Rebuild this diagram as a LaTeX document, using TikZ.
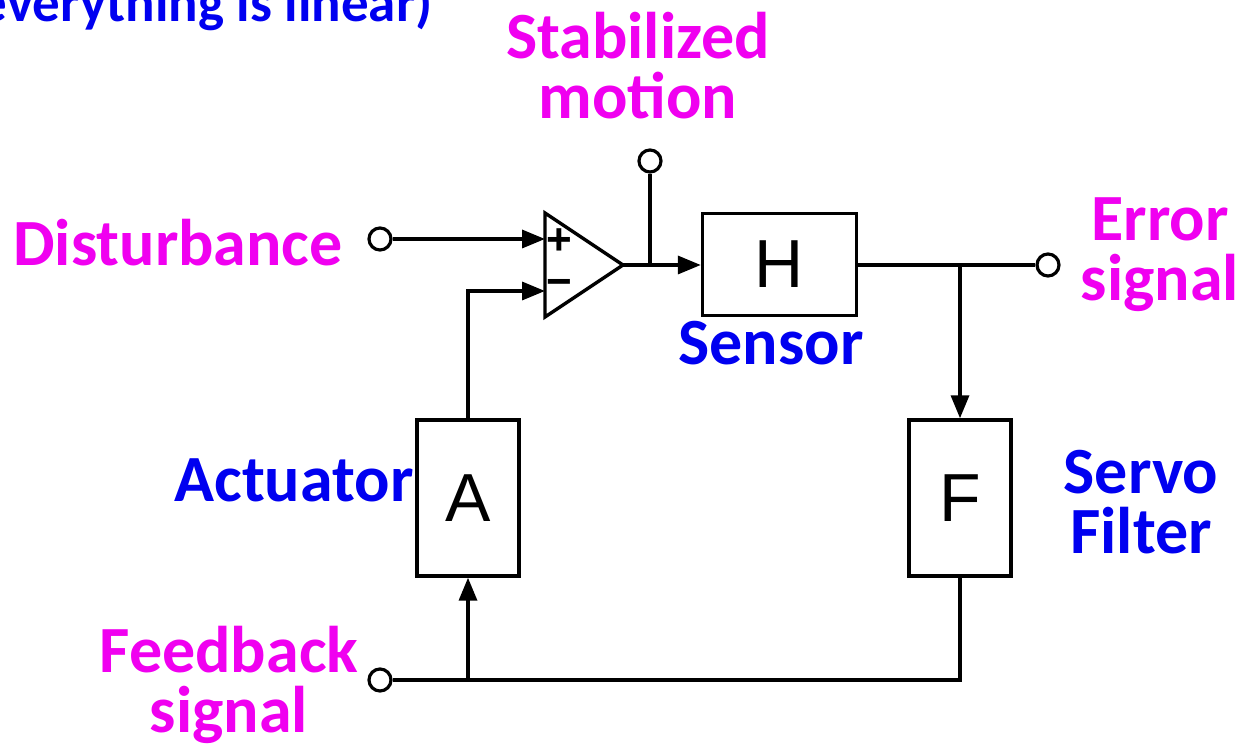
\documentclass[tikz,border=0pt]{standalone}
\usepackage{fontspec}
\setmainfont{Carlito}
\newfontfamily\boxfont{Liberation Sans}
\usetikzlibrary{arrows.meta}
\definecolor{lblmag}{RGB}{240,0,240}
\definecolor{lblblue}{RGB}{0,0,240}
\tikzset{
  wire/.style={line width=1.7pt, line join=miter},
  arr/.style={wire, -{Triangle[length=11.5pt,width=9pt]}},
  term/.style={circle, draw, line width=1.6pt, fill=white, minimum size=11pt, inner sep=0pt},
  blk/.style={draw, line width=1.7pt, inner sep=0pt, font=\boxfont\fontsize{34}{34}\selectfont},
  maglbl/.style={text=lblmag, font=\bfseries\fontsize{33}{30}\selectfont, align=center, inner sep=0pt},
  bluelbl/.style={text=lblblue, font=\bfseries\fontsize{33}{30}\selectfont, align=center, inner sep=0pt},
  sign/.style={font=\boxfont\bfseries\fontsize{22}{22}\selectfont, inner sep=0pt},
}
\begin{document}
\begin{tikzpicture}[x=0.5pt,y=-0.5pt]
\useasboundingbox (0,0) rectangle (1241,747);
% top text (cut off at the page edge, as in the reference)
\node[bluelbl, font=\bfseries\fontsize{27.5}{30}\selectfont, anchor=base east] (topnote) at (433,22) {everything is linear)};
% blocks
\node[blk, minimum width=77pt, minimum height=51pt] (H) at (779.5,264.5) {H};
\node[blk, minimum width=51pt, minimum height=78pt] (A) at (468,498) {A};
\node[blk, minimum width=51pt, minimum height=78pt] (F) at (960,498) {F};
% op-amp
\coordinate (tl) at (545,213);
\coordinate (bl) at (545,317);
\coordinate (out) at (623,265);
\draw[wire] (tl) -- (out) -- (bl) -- cycle;
\coordinate (inp) at (545,239);
\coordinate (inm) at (545,291);
\node[sign] (plus) at (559,242) {+};
\node[sign] (minus) at (559,288) {\textminus};
% terminals
\node[term] (tdist) at (380,239) {};
\node[term] (tstab) at (650,161) {};
\node[term] (terr) at (1048,265) {};
\node[term] (tfb) at (380,680) {};
% junctions
\coordinate (jstab) at (650,265);
\coordinate (jerr) at (960,265);
\coordinate (jfb) at (468,680);
\coordinate (fbc) at (960,680);
\coordinate (ac) at (468,291);
% wires
\draw[arr] (tdist) -- (inp);
\draw[arr] (A.north) -- (ac) -- (inm);
\draw[arr] (out) -- (H.west |- out);
\draw[wire] (jstab) -- (tstab);
\draw[wire] (H.east |- jerr) -- (terr);
\draw[arr] (jerr) -- (F.north);
\draw[wire] (F.south) -- (fbc) -- (tfb);
\draw[arr] (jfb) -- (A.south);
% labels
\node[maglbl] (ldist) at (178,243) {Disturbance};
\node[maglbl] (lstab) at (638,66) {Stabilized\\motion};
\node[maglbl] (lerr) at (1160,255) {Error\\signal};
\node[maglbl] (lfb) at (229,685) {Feedback\\signal};
\node[bluelbl] (lsens) at (771,343) {Sensor};
\node[bluelbl] (lact) at (294,480) {Actuator};
\node[bluelbl] (lservo) at (1141,502) {Servo\\Filter};
\end{tikzpicture}
\end{document}
